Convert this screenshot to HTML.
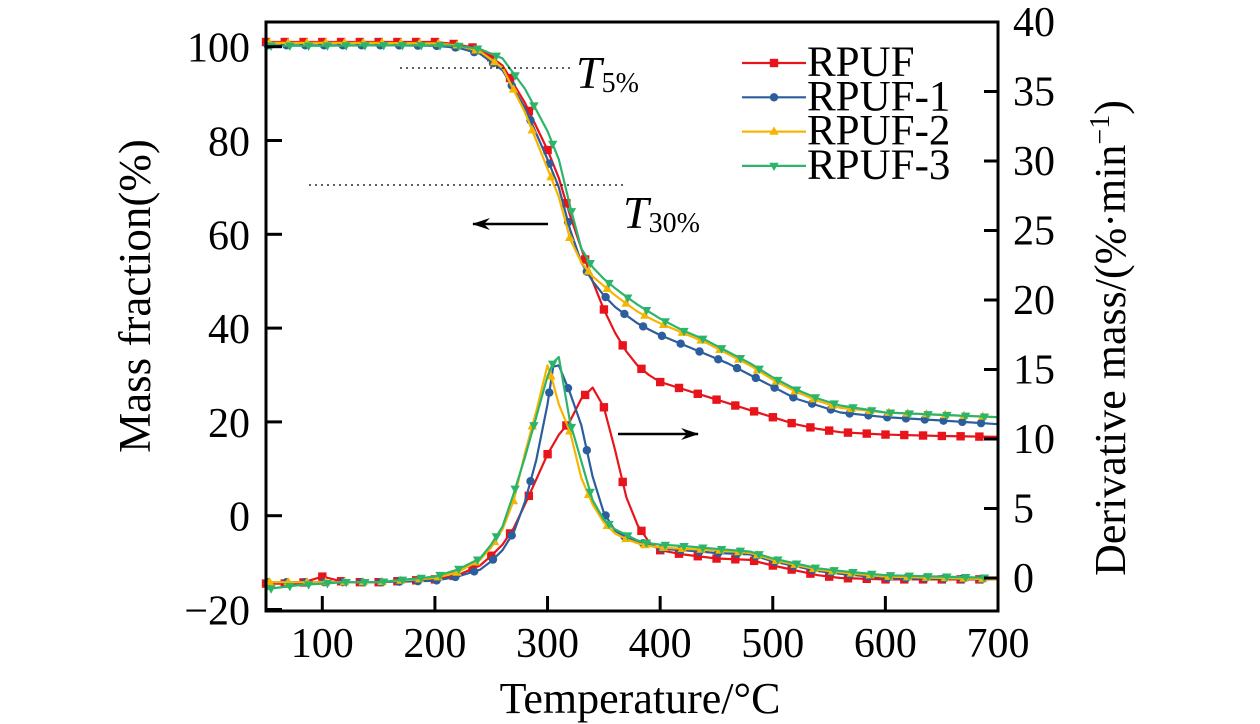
<!DOCTYPE html>
<html><head><meta charset="utf-8">
<style>
html,body{margin:0;padding:0;background:#fff;}
svg{display:block;font-family:"Liberation Serif",serif;}
</style></head>
<body>
<svg id="chart" width="1260" height="724" viewBox="0 0 1260 724">
  <g id="series-layer"></g>
  <g id="axes-layer"></g>
</svg>
<script>
// ---- data ----
const massTemps = [50,100,150,200,220,240,260,280,300,310,320,330,340,350,360,370,380,390,400,420,440,460,480,500,520,540,560,600,650,700];
const massRPUF  = [101,101,101,101,100.5,99.5,96,88,78,72,64,57,50,44,39,35,32,30,28.5,27,25.5,24,22.5,21,19.5,18.5,17.8,17.3,17,16.8];
const massRPUF1 = [100.3,100.3,100.3,100.2,99.8,98.5,95,87,76,70,61,54,50,47,44.5,42.7,41,39.7,38.5,36.5,34.5,32.5,30,27.5,25,23.5,22,21,20.3,19.5];
const massRPUF2 = [100.8,100.8,100.8,100.7,100.3,99,95.5,86,74,68,59,54,51,49,47,45.2,43.5,42.2,41,39,37,34.5,32,29,26.5,24.5,23,22,21.5,21];
const massRPUF3 = [100.2,100.2,100.3,100.3,100.2,99.5,97.5,91,82,76,66,57,53,50.5,48.5,46.7,45,43.5,42,39.5,37.5,35,32.5,29.5,27,25,23.5,22,21.5,21];

const dTemps = [50,80,100,120,150,200,220,240,250,260,270,280,290,300,305,310,320,330,340,350,360,370,380,390,400,420,450,480,500,540,560,600,700];
const dRPUF  = [-0.4,-0.4,0.1,-0.3,-0.3,-0.1,0.2,0.9,1.6,2.4,3.6,5.3,7.1,8.9,9.6,10.3,11.3,12.9,13.7,12.3,9.2,5.8,3.8,2.6,2.0,1.7,1.4,1.3,0.9,0.2,0,-0.1,-0.1];
const dRPUF1 = [-0.3,-0.3,-0.3,-0.3,-0.3,-0.2,0.1,0.6,1.2,2.0,3.3,5.5,8.5,12.5,15.2,15.3,13.3,11,7.3,4.7,3.4,2.9,2.6,2.4,2.1,2.0,1.8,1.7,1.2,0.5,0.3,0,-0.1];
const dRPUF2 = [-0.3,-0.3,-0.3,-0.3,-0.3,0,0.4,1.3,2.2,3.5,5.6,9,12,15.3,14,12.5,10.5,7.2,5.3,4,3.2,2.8,2.5,2.3,2.2,2.1,2.0,1.8,1.3,0.6,0.4,0.1,-0.1];
const dRPUF3 = [-0.8,-0.5,-0.4,-0.3,-0.3,0.1,0.6,1.4,2.4,3.7,6.1,8.7,11.6,14.5,15.5,15.9,11.2,8.4,5.6,4.2,3.5,3.1,2.7,2.5,2.4,2.3,2.1,1.9,1.4,0.7,0.5,0.2,0];

const seriesNames = ["RPUF","RPUF-1","RPUF-2","RPUF-3"];
const xTicks = [100,200,300,400,500,600,700];
const leftTicks = [-20,0,20,40,60,80,100];
const rightTicks = [0,5,10,15,20,25,30,35,40];

// ---- scales ----
const X0=266, X1=998, Y0=22, Y1=611;
const xs = t => X0 + (t-50)*(X1-X0)/650;
const yL = v => 46.7 + (100-v)*4.69;
const yR = v => 578 - v*13.9;

const colors = ["#e8141b","#2c5d9c","#f7b500","#2cb56a"];
const shapes = ["square","circle","up","down"];
const NS="http://www.w3.org/2000/svg";
const sl = document.getElementById('series-layer');
const al = document.getElementById('axes-layer');
function mk(tag, attrs, parent){const e=document.createElementNS(NS,tag);for(const k in attrs)e.setAttribute(k,attrs[k]);parent.appendChild(e);return e;}

function marker(shape,x,y,c,parent,s){
  s=s||4.2;
  let e;
  if(shape==="square") e=mk('rect',{x:x-s,y:y-s,width:2*s,height:2*s,fill:c},parent);
  else if(shape==="circle") e=mk('circle',{cx:x,cy:y,r:s,fill:c},parent);
  else if(shape==="up") e=mk('polygon',{points:`${x},${y-s-1} ${x-s-0.5},${y+s-1} ${x+s+0.5},${y+s-1}`,fill:c},parent);
  else e=mk('polygon',{points:`${x},${y+s+1} ${x-s-0.5},${y-s+1} ${x+s+0.5},${y-s+1}`,fill:c},parent);
  return e;
}
function interp(ts,vs,t){for(let i=0;i<ts.length-1;i++){if(t>=ts[i]&&t<=ts[i+1]){const f=(t-ts[i])/(ts[i+1]-ts[i]);return vs[i]+f*(vs[i+1]-vs[i]);}}return vs[vs.length-1];}

function drawSeries(ts,vs,yf,idx,kind){
  const g=mk('g',{},sl);
  
  
  const pts=ts.map((t,i)=>xs(t).toFixed(1)+','+yf(vs[i]).toFixed(1)).join(' ');
  const line=mk('polyline',{points:pts,fill:'none',stroke:colors[idx],'stroke-width':2.2,'stroke-linejoin':'round'},g);
  
  
  for(let t=50+idx*1.5; t<=700; t+=16.67){
    const m=marker(shapes[idx],xs(t),yf(interp(ts,vs,t)),colors[idx],g);
    
    
  }
}
const massSets=[massRPUF,massRPUF1,massRPUF2,massRPUF3];
const dSets=[dRPUF,dRPUF1,dRPUF2,dRPUF3];
for(let i=0;i<4;i++){drawSeries(massTemps,massSets[i],yL,i,'mass');}
for(let i=0;i<4;i++){drawSeries(dTemps,dSets[i],yR,i,'deriv');}

// frame
const frame=mk('rect',{x:X0,y:Y0,width:X1-X0,height:Y1-Y0,fill:'none',stroke:'#000','stroke-width':3},al);


xTicks.forEach(t=>{
  const x=xs(t);
  const tk=mk('line',{x1:x,y1:Y1,x2:x,y2:Y1-15,stroke:'#000','stroke-width':3},al);
  
  
  const tx=mk('text',{x:x,y:657,'text-anchor':'middle','font-size':42},al);
  tx.textContent=t;
  
  
});
leftTicks.forEach(v=>{
  const y=yL(v);
  const tk=mk('line',{x1:X0,y1:y,x2:X0+16,y2:y,stroke:'#000','stroke-width':3},al);
  
  
  const tx=mk('text',{x:250,y:y+15,'text-anchor':'end','font-size':42},al);
  tx.textContent=v<0?'\u2212'+(-v):v;
  
  
});
rightTicks.forEach(v=>{
  const y=yR(v);
  const tk=mk('line',{x1:X1,y1:y,x2:X1-14,y2:y,stroke:'#000','stroke-width':3},al);
  
  
  const tx=mk('text',{x:1013,y:y+14,'text-anchor':'start','font-size':42},al);
  tx.textContent=v;
  
  
});

// legend
seriesNames.forEach((n,i)=>{
  const y=63+i*34.3;
  const g=mk('g',{},al);
  
  
  mk('line',{x1:742,y1:y,x2:806,y2:y,stroke:colors[i],'stroke-width':2.2},g);
  marker(shapes[i],774,y,colors[i],g);
  const tx=mk('text',{x:807,y:y+13,'font-size':43},g);
  tx.textContent=n;
});
</script>
<svg width="1260" height="724" style="position:absolute;left:0;top:0;font-family:'Liberation Serif',serif">
  <defs>
  <marker id="ah2" markerWidth="18" markerHeight="12" refX="17" refY="6" orient="auto" markerUnits="userSpaceOnUse"><path d="M0,0 L18,6 L0,12 L6,6z" fill="#000"/></marker></defs>
  <line x1="400" y1="68" x2="572" y2="68" stroke="#000" stroke-width="1.3" stroke-dasharray="2,4"/>
  <line x1="309" y1="185" x2="626" y2="185" stroke="#000" stroke-width="1.3" stroke-dasharray="2,4"/>
  <text x="576" y="88" font-size="46" font-style="italic">T<tspan font-style="normal" font-size="28" dy="4">5%</tspan></text>
  <text x="623" y="228" font-size="46" font-style="italic">T<tspan font-style="normal" font-size="28" dy="4">30%</tspan></text>
  <line x1="548" y1="224" x2="473" y2="224" stroke="#000" stroke-width="2.5" marker-end="url(#ah2)"/>
  <line x1="618" y1="434" x2="698" y2="434" stroke="#000" stroke-width="2.5" marker-end="url(#ah2)"/>
  <text x="0" y="0" font-size="45" text-anchor="middle" transform="translate(150,296) rotate(-90)">Mass fraction(%)</text>
  <text x="0" y="0" font-size="44" text-anchor="middle" transform="translate(1125,338) rotate(-90)">Derivative mass/(%·min<tspan font-size="28" dy="-16">−1</tspan><tspan dy="16">)</tspan></text>
  <text x="640" y="713" font-size="44" text-anchor="middle">Temperature/°C</text>
</svg>
</body></html>
